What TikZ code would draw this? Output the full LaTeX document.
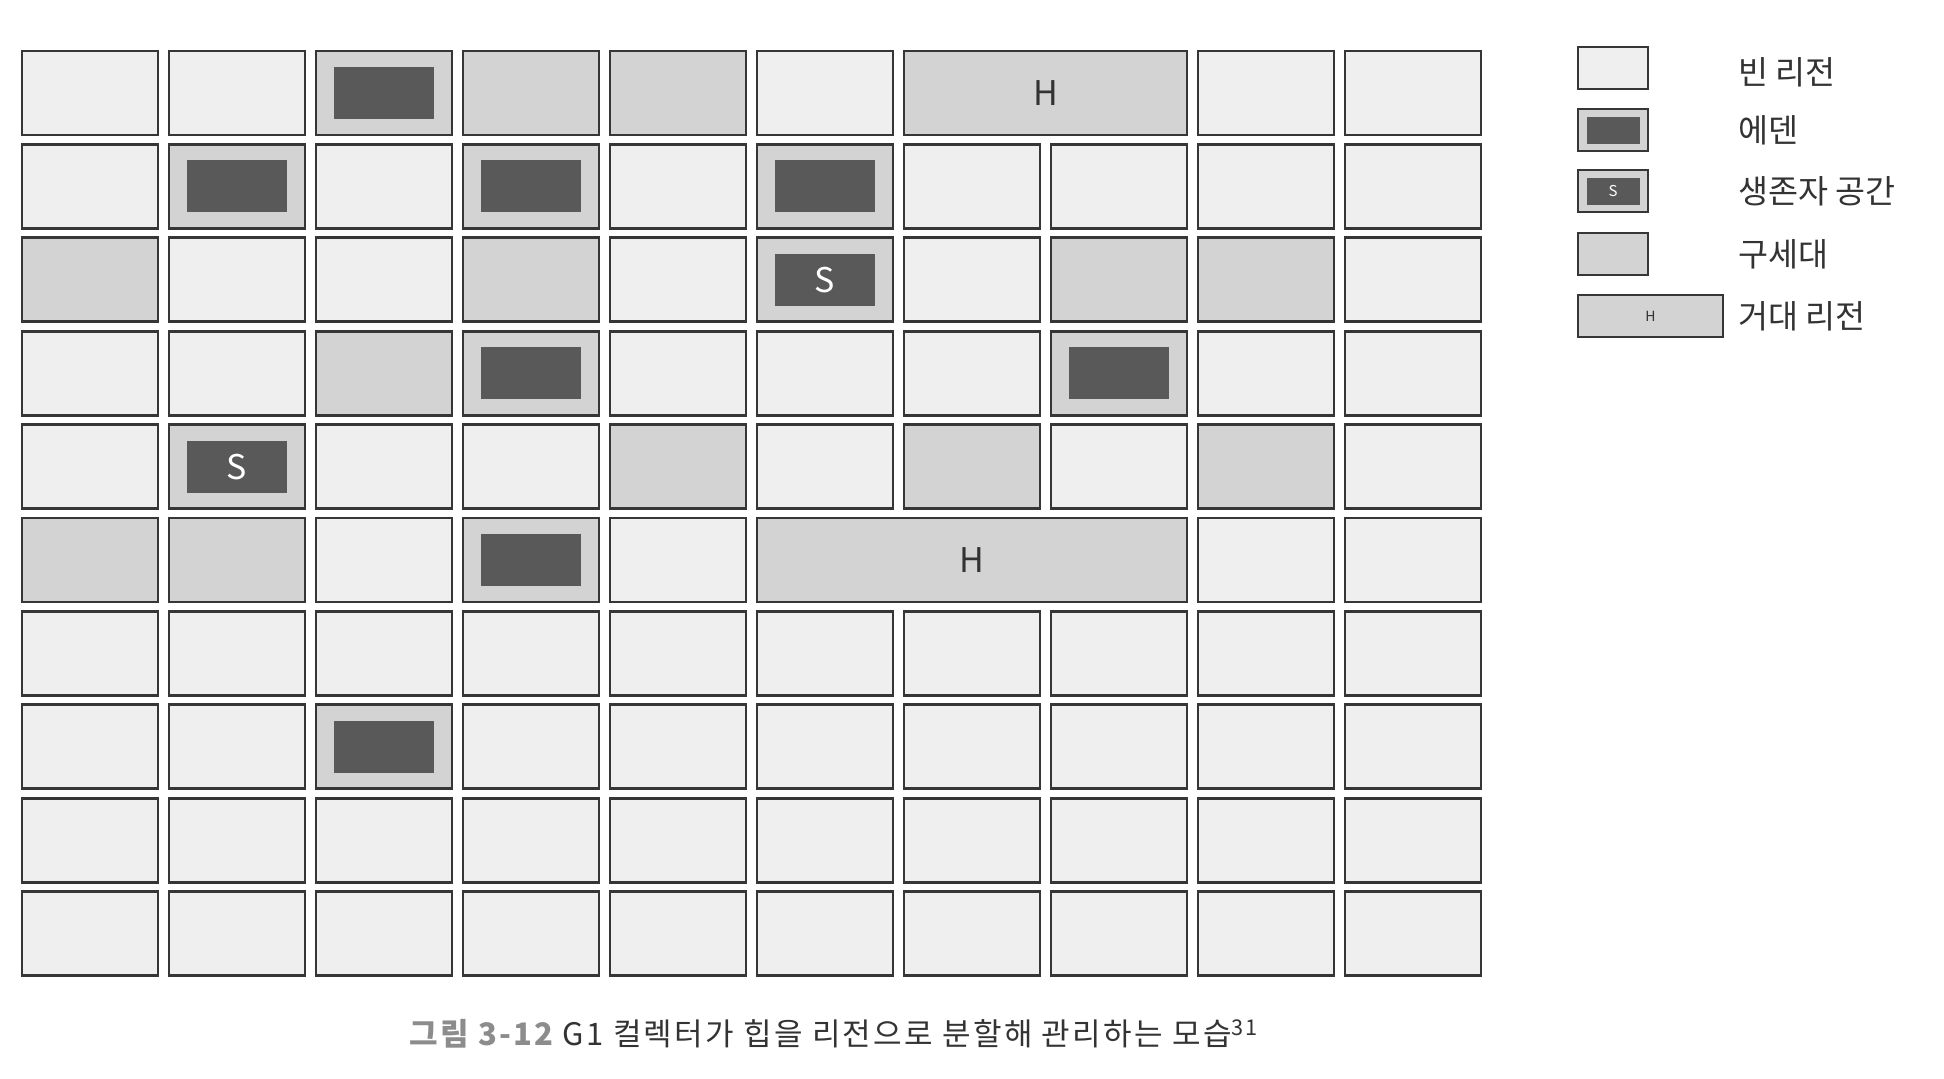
\documentclass[tikz,border=0pt]{standalone}
\usepackage{fontspec}
\setmainfont{Noto Sans CJK KR}
\newfontfamily\capfont[LetterSpace=7.5]{Noto Sans CJK KR}
\definecolor{emptyc}{HTML}{EFEFEF}
\definecolor{oldc}{HTML}{D3D3D3}
\definecolor{darkc}{HTML}{595959}
\definecolor{linec}{HTML}{363636}
\definecolor{textc}{HTML}{333333}
\definecolor{capgray}{HTML}{8C8C8C}
\def\txte{}\def\txto{}\def\txtd{}\def\txts{S}
\begin{document}
\begin{tikzpicture}[x=0.5pt,y=-0.5pt,
  base/.style={draw=linec, line width=1.45pt, rectangle, inner sep=0pt, minimum width=68pt, minimum height=42pt},
  cell-e/.style={base, fill=emptyc},
  cell-o/.style={base, fill=oldc},
  cell-d/.style={base, fill=oldc, path picture={\fill[darkc] ([xshift=-25pt,yshift=-13pt]path picture bounding box.center) rectangle ([xshift=25pt,yshift=13pt]path picture bounding box.center);}},
  cell-s/.style={cell-d, text=white, font=\fontsize{17pt}{17pt}\selectfont},
  huge/.style={base, fill=oldc, text=textc, font=\fontsize{17pt}{17pt}\selectfont},
  lbox/.style={draw=linec, line width=1.2pt, rectangle, inner sep=0pt, minimum width=35pt, minimum height=21pt},
  ldark/.style={path picture={\fill[darkc] ([xshift=-13.25pt,yshift=-6.75pt]path picture bounding box.center) rectangle ([xshift=13.25pt,yshift=6.75pt]path picture bounding box.center);}},
  ltext/.style={anchor=west, text=textc, font=\fontsize{16.3pt}{16.3pt}\selectfont, inner sep=0pt}
]
\useasboundingbox[fill=white] (0,0) rectangle (1944,1078);
% grid
\foreach \r/\row in {
  0/{e,e,d,o,o,e,h,h,e,e},
  1/{e,d,e,d,e,d,e,e,e,e},
  2/{o,e,e,o,e,s,e,o,o,e},
  3/{e,e,o,d,e,e,e,d,e,e},
  4/{e,s,e,e,o,e,o,e,o,e},
  5/{o,o,e,d,e,h,h,h,e,e},
  6/{e,e,e,e,e,e,e,e,e,e},
  7/{e,e,d,e,e,e,e,e,e,e},
  8/{e,e,e,e,e,e,e,e,e,e},
  9/{e,e,e,e,e,e,e,e,e,e}}{
  \foreach \t [count=\c from 0] in \row {
    \if h\t\else
      \node[cell-\t] (c-\r-\c) at ({90+147*\c},{93+93.4*\r}) {\csname txt\t\endcsname};
    \fi
  }
}
% huge regions
\node[huge, minimum width=141.5pt] (h-0) at (1045.5,93) {H};
\node[huge, minimum width=215pt] (h-5) at (972,{93+93.4*5}) {H};
% legend
\node[lbox, fill=emptyc] (l-1) at (1613,68) {};
\node[lbox, fill=oldc, ldark] (l-2) at (1613,130) {};
\node[lbox, fill=oldc, ldark, text=white, font=\fontsize{7.5pt}{7.5pt}\selectfont] (l-3) at (1613,191) {S};
\node[lbox, fill=oldc] (l-4) at (1613,254) {};
\node[lbox, fill=oldc, minimum width=72.5pt, text=textc, font=\fontsize{7pt}{7pt}\selectfont] (l-5) at (1650.5,316) {H};
\node[ltext] (t-1) at (1738,72) {빈 리전};
\node[ltext] (t-2) at (1738,130) {에덴};
\node[ltext] (t-3) at (1738,191) {생존자 공간};
\node[ltext] (t-4) at (1738,254) {구세대};
\node[ltext] (t-5) at (1738,316) {거대 리전};
% caption
\node[anchor=west, inner sep=0pt, text=textc, font=\capfont\fontsize{15.5pt}{15.5pt}\selectfont] (cap) at (409,1034)
  {{\color{capgray}\bfseries 그림 3-12} G1 컬렉터가 힙을 리전으로 분할해 관리하는 모습\textsuperscript{31}};
\end{tikzpicture}
\end{document}
